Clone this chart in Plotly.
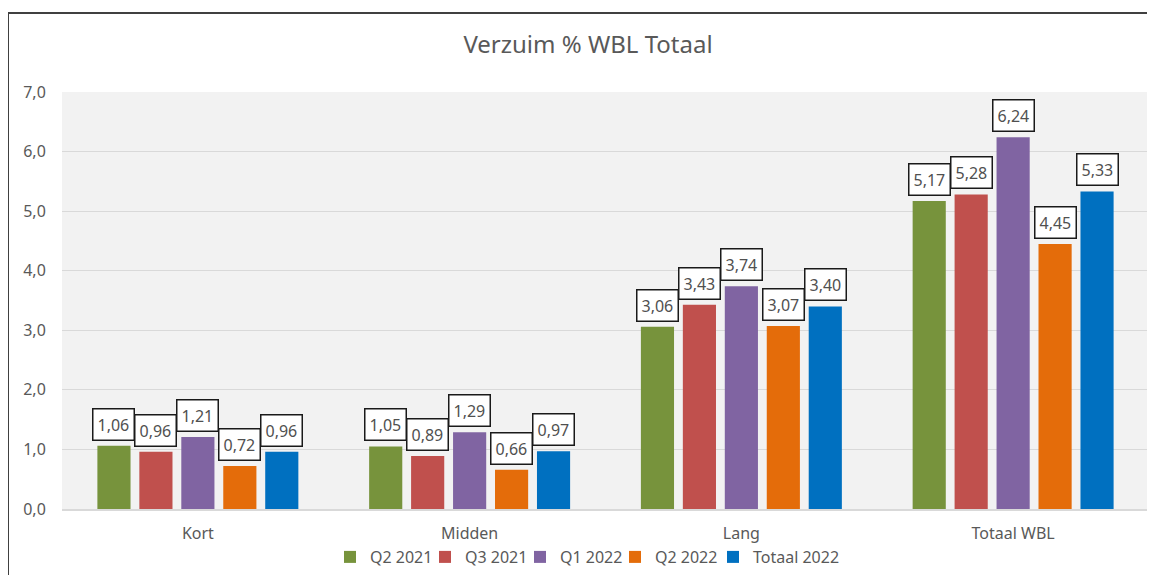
import plotly.graph_objects as go

categories = ["Kort", "Midden", "Lang", "Totaal WBL"]
series_names = ["Q2 2021", "Q3 2021", "Q1 2022", "Q2 2022", "Totaal 2022"]
q2_2021 = [1.06, 1.05, 3.06, 5.17]
q3_2021 = [0.96, 0.89, 3.43, 5.28]
q1_2022 = [1.21, 1.29, 3.74, 6.24]
q2_2022 = [0.72, 0.66, 3.07, 4.45]
totaal_2022 = [0.96, 0.97, 3.40, 5.33]
series_values = [q2_2021, q3_2021, q1_2022, q2_2022, totaal_2022]
colors = ["#77933C", "#C0504D", "#8064A2", "#E46C0A", "#0070C0"]
y_ticks = [0, 1, 2, 3, 4, 5, 6, 7]

# page body has an 8px margin, so compensate
OFF = 8
W, H = 1155 - OFF, 575 - OFF
ml, mt, mb = 62 - OFF, 92 - OFF, 74 - OFF
mr = W - (1149 - OFF)
plot_w = W - ml - mr
plot_h = H - mt - mb
bargap, bargroupgap = 0.228, 0.21
font = "Noto Sans, Open Sans, sans-serif"
txt = "#595959"

# legend entry left edges (screen px), one legend per entry
legend_px = [330, 425, 520, 615, 713]
legend_ids = ["legend"] + [f"legend{k}" for k in range(2, len(series_names) + 1)]

fig = go.Figure()
for name, vals, col, lid in zip(series_names, series_values, colors, legend_ids):
    fig.add_trace(go.Bar(x=categories, y=vals, name=name, marker_color=col,
                         marker_line_width=0, legend=lid))

cat_w = plot_w / len(categories)
n = len(series_names)
slot = cat_w * (1 - bargap) / n
for i, vals in enumerate(series_values):
    off = (i - (n - 1) / 2) * slot
    for c, v in zip(categories, vals):
        fig.add_annotation(x=c, y=v, xref="x", yref="y", xshift=off, yshift=5,
                           yanchor="bottom", showarrow=False,
                           text=f"{v:.2f}".replace(".", ","),
                           font=dict(family=font, size=16, color="#505050"),
                           bgcolor="white", bordercolor="#1a1a1a", borderwidth=1.5,
                           borderpad=4)

# chart frame (left and top edges visible)
fig.add_shape(type="rect", xref="paper", yref="paper",
              x0=(8 - OFF - ml) / plot_w, x1=1.2,
              y0=-0.5, y1=1 + (mt - (13 - OFF)) / plot_h,
              line=dict(color="#404040", width=2), fillcolor="rgba(0,0,0,0)", layer="above")

legends = {}
for lid, px in zip(legend_ids, legend_px):
    legends[lid] = dict(orientation="h", xanchor="left", x=(px - OFF - ml) / plot_w,
                        y=-(549 - 501) / plot_h, yanchor="middle",
                        font=dict(size=16, color=txt), itemwidth=30,
                        bgcolor="rgba(0,0,0,0)")

fig.update_layout(
    width=W, height=H,
    margin=dict(l=ml, r=mr, t=mt, b=mb, autoexpand=False),
    paper_bgcolor="white", plot_bgcolor="#F2F2F2",
    separators=",.",
    barmode="group", bargap=bargap, bargroupgap=bargroupgap,
    title=dict(text="Verzuim % WBL Totaal", x=(588 - OFF) / W, xanchor="center",
               y=1 - (45 - OFF) / H, yanchor="middle",
               font=dict(family=font, size=24, color=txt)),
    font=dict(family=font, size=16, color=txt),
    xaxis=dict(showline=True, linecolor="#D9D9D9", linewidth=1.5, ticks="outside",
               ticklen=9, tickcolor="rgba(0,0,0,0)", tickfont=dict(size=16, color=txt),
               showgrid=False),
    yaxis=dict(range=[0, 7], tickvals=y_ticks, tickformat=".1f", showgrid=True,
               gridcolor="#D9D9D9", gridwidth=1, zeroline=False, ticks="outside",
               ticklen=12, tickcolor="rgba(0,0,0,0)", tickfont=dict(size=16, color=txt),
               fixedrange=True),
    showlegend=True,
    **legends,
)

fig.write_html("out.html")
